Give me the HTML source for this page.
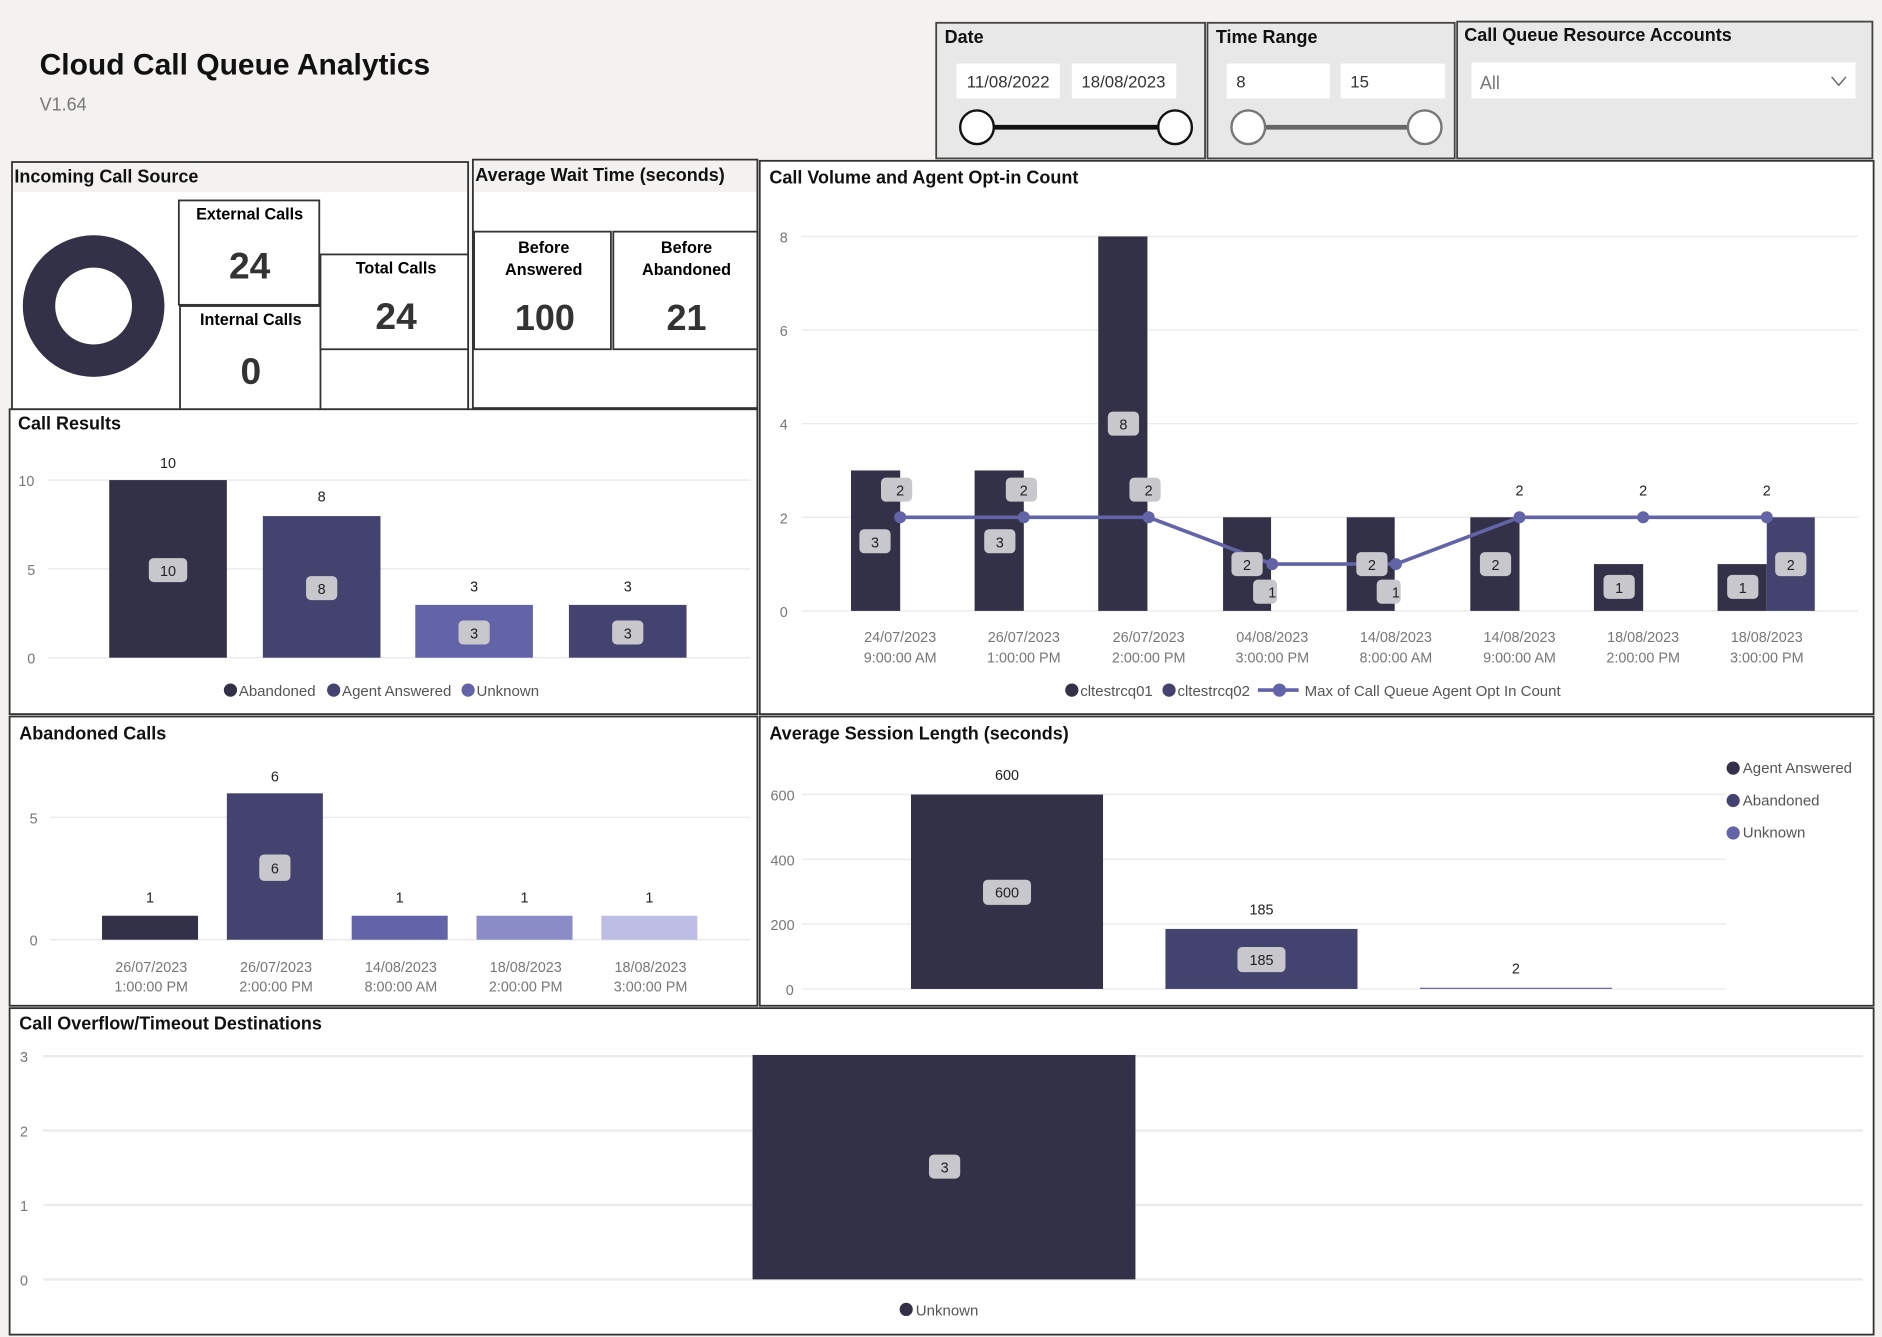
<!DOCTYPE html>
<html><head><meta charset="utf-8"><style>
html,body{margin:0;padding:0;background:#f3f2f1;overflow:hidden}
svg{display:block}
text{font-family:"Liberation Sans",sans-serif}
.t{font-weight:bold;font-size:15px;fill:#111}
.ax{font-size:12px;fill:#777}
.lb{font-size:12px;fill:#222}
.lg{font-size:12.5px;fill:#555}
.g{stroke:#ebebeb;stroke-width:1.2}
.pb{fill:#fff;stroke:#333;stroke-width:1.5}
.bx{fill:#c8c8cc}
</style></head><body>
<svg width="1882" height="1337" viewBox="0 0 1568 1114" preserveAspectRatio="none" xmlns="http://www.w3.org/2000/svg">
<rect width="1568" height="1114" fill="#f3f2f1"/>
<text x="33" y="62" font-size="25" font-weight="bold" fill="#111">Cloud Call Queue Analytics</text>
<text x="33" y="92" font-size="15" fill="#777">V1.64</text>

<!-- slicers -->
<rect x="780" y="19" width="224" height="113" fill="#e8e8e8" stroke="#444" stroke-width="1.5"/>
<text x="787" y="36" class="t" font-size="14">Date</text>
<rect x="797" y="53" width="86" height="29" fill="#fff"/><text x="840" y="73" font-size="14" text-anchor="middle" fill="#333">11/08/2022</text>
<rect x="893" y="53" width="87" height="29" fill="#fff"/><text x="936" y="73" font-size="14" text-anchor="middle" fill="#333">18/08/2023</text>
<line x1="814" y1="106" x2="979" y2="106" stroke="#111" stroke-width="4"/>
<circle cx="814" cy="106" r="14" fill="#fff" stroke="#111" stroke-width="2"/>
<circle cx="979" cy="106" r="14" fill="#fff" stroke="#111" stroke-width="2"/>
<rect x="1006" y="19" width="206" height="113" fill="#e8e8e8" stroke="#444" stroke-width="1.5"/>
<text x="1013" y="36" class="t" font-size="14">Time Range</text>
<rect x="1022" y="53" width="86" height="29" fill="#fff"/><text x="1030" y="73" font-size="14" fill="#333">8</text>
<rect x="1117" y="53" width="87" height="29" fill="#fff"/><text x="1125" y="73" font-size="14" fill="#333">15</text>
<line x1="1040" y1="106" x2="1187" y2="106" stroke="#666" stroke-width="4"/>
<circle cx="1040" cy="106" r="14" fill="#fff" stroke="#777" stroke-width="2"/>
<circle cx="1187" cy="106" r="14" fill="#fff" stroke="#777" stroke-width="2"/>
<rect x="1214" y="18" width="346" height="114" fill="#e8e8e8" stroke="#444" stroke-width="1.5"/>
<text x="1220" y="34" class="t" font-size="14">Call Queue Resource Accounts</text>
<rect x="1226" y="52" width="320" height="30" fill="#fff"/>
<text x="1233" y="74" font-size="15" fill="#777">All</text>
<polyline points="1526,64 1532,71 1538,64" fill="none" stroke="#666" stroke-width="1.2"/>

<!-- Incoming Call Source -->
<rect x="10" y="135" width="380" height="206" class="pb"/>
<rect x="11" y="136" width="378" height="24" fill="#f3f2f1"/>
<text x="12" y="152" class="t">Incoming Call Source</text>
<circle cx="78" cy="255" r="45.5" fill="none" stroke="#333147" stroke-width="27"/>
<rect x="149" y="167" width="117" height="87" class="pb"/>
<text x="208" y="183" text-anchor="middle" font-weight="bold" font-size="13.5">External Calls</text>
<text x="208" y="232" text-anchor="middle" font-weight="bold" font-size="31" fill="#333">24</text>
<rect x="150" y="255" width="117" height="86" class="pb"/>
<text x="209" y="271" text-anchor="middle" font-weight="bold" font-size="13.5">Internal Calls</text>
<text x="209" y="320" text-anchor="middle" font-weight="bold" font-size="31" fill="#333">0</text>
<rect x="267" y="212" width="123" height="79" class="pb"/>
<text x="330" y="228" text-anchor="middle" font-weight="bold" font-size="13.5">Total Calls</text>
<text x="330" y="274" text-anchor="middle" font-weight="bold" font-size="31" fill="#333">24</text>

<!-- Avg wait -->
<rect x="394" y="133" width="237" height="207" class="pb"/>
<rect x="395" y="134" width="235" height="26" fill="#f3f2f1"/>
<text x="396" y="151" class="t">Average Wait Time (seconds)</text>
<rect x="395" y="193" width="114" height="98" class="pb"/>
<text x="453" y="211" text-anchor="middle" font-weight="bold" font-size="13.5">Before</text>
<text x="453" y="229" text-anchor="middle" font-weight="bold" font-size="13.5">Answered</text>
<text x="454" y="275" text-anchor="middle" font-weight="bold" font-size="30" fill="#333">100</text>
<rect x="511" y="193" width="120" height="98" class="pb"/>
<text x="572" y="211" text-anchor="middle" font-weight="bold" font-size="13.5">Before</text>
<text x="572" y="229" text-anchor="middle" font-weight="bold" font-size="13.5">Abandoned</text>
<text x="572" y="275" text-anchor="middle" font-weight="bold" font-size="30" fill="#333">21</text>

<!-- Call Volume -->
<rect x="633" y="134" width="928" height="461" class="pb"/>
<text x="641" y="153" class="t">Call Volume and Agent Opt-in Count</text>
<g class="g"><line x1="668" y1="197" x2="1548" y2="197"/><line x1="668" y1="275" x2="1548" y2="275"/><line x1="668" y1="353" x2="1548" y2="353"/><line x1="668" y1="431" x2="1548" y2="431"/><line x1="668" y1="509" x2="1548" y2="509"/></g>
<g class="ax" text-anchor="middle"><text x="653" y="202">8</text><text x="653" y="280">6</text><text x="653" y="358">4</text><text x="653" y="436">2</text><text x="653" y="514">0</text></g>
<g fill="#333147">
<rect x="709" y="392" width="41" height="117"/><rect x="812" y="392" width="41" height="117"/><rect x="915" y="197" width="41" height="312"/>
<rect x="1019" y="431" width="40" height="78"/><rect x="1122" y="431" width="40" height="78"/><rect x="1225" y="431" width="41" height="78"/>
<rect x="1328" y="470" width="41" height="39"/><rect x="1431" y="470" width="41" height="39"/></g>
<rect x="1472" y="431" width="40" height="78" fill="#44436f"/>
<polyline points="750,431 853,431 957,431 1060,470 1163,470 1266,431 1369,431 1472,431" fill="none" stroke="#6264a7" stroke-width="3"/>
<g fill="#6264a7"><circle cx="750" cy="431" r="5"/><circle cx="853" cy="431" r="5"/><circle cx="957" cy="431" r="5"/><circle cx="1060" cy="470" r="5"/><circle cx="1163" cy="470" r="5"/><circle cx="1266" cy="431" r="5"/><circle cx="1369" cy="431" r="5"/><circle cx="1472" cy="431" r="5"/></g>
<g class="bx"><rect x="716" y="441" width="26" height="20" rx="4"/><rect x="820" y="441" width="26" height="20" rx="4"/><rect x="923" y="343" width="26" height="20" rx="4"/>
<rect x="734" y="398" width="26" height="20" rx="4"/><rect x="838" y="398" width="26" height="20" rx="4"/><rect x="941" y="398" width="26" height="20" rx="4"/>
<rect x="1026" y="460" width="26" height="20" rx="4"/><rect x="1130" y="460" width="26" height="20" rx="4"/><rect x="1233" y="460" width="26" height="20" rx="4"/>
<rect x="1044" y="483" width="20" height="20" rx="4"/><rect x="1147" y="483" width="20" height="20" rx="4"/>
<rect x="1336" y="479" width="26" height="20" rx="4"/><rect x="1439" y="479" width="26" height="20" rx="4"/><rect x="1479" y="460" width="26" height="20" rx="4"/></g>
<g class="lb" text-anchor="middle">
<text x="729" y="456">3</text><text x="833" y="456">3</text><text x="936" y="358">8</text>
<text x="750" y="413">2</text><text x="853" y="413">2</text><text x="957" y="413">2</text>
<text x="1039" y="475">2</text><text x="1143" y="475">2</text><text x="1246" y="475">2</text>
<text x="1060" y="498">1</text><text x="1163" y="498">1</text>
<text x="1349" y="494">1</text><text x="1452" y="494">1</text><text x="1492" y="475">2</text>
<text x="1266" y="413">2</text><text x="1369" y="413">2</text><text x="1472" y="413">2</text></g>
<g class="ax" text-anchor="middle">
<text x="750" y="535">24/07/2023</text><text x="750" y="552">9:00:00 AM</text>
<text x="853" y="535">26/07/2023</text><text x="853" y="552">1:00:00 PM</text>
<text x="957" y="535">26/07/2023</text><text x="957" y="552">2:00:00 PM</text>
<text x="1060" y="535">04/08/2023</text><text x="1060" y="552">3:00:00 PM</text>
<text x="1163" y="535">14/08/2023</text><text x="1163" y="552">8:00:00 AM</text>
<text x="1266" y="535">14/08/2023</text><text x="1266" y="552">9:00:00 AM</text>
<text x="1369" y="535">18/08/2023</text><text x="1369" y="552">2:00:00 PM</text>
<text x="1472" y="535">18/08/2023</text><text x="1472" y="552">3:00:00 PM</text></g>
<circle cx="893" cy="575" r="5.5" fill="#333147"/><text x="900" y="580" class="lg">cltestrcq01</text>
<circle cx="974" cy="575" r="5.5" fill="#44436f"/><text x="981" y="580" class="lg">cltestrcq02</text>
<line x1="1048" y1="575" x2="1082" y2="575" stroke="#6264a7" stroke-width="3"/><circle cx="1066" cy="575" r="5.5" fill="#6264a7"/>
<text x="1087" y="580" class="lg">Max of Call Queue Agent Opt In Count</text>

<!-- Call Results -->
<rect x="8" y="341" width="623" height="254" class="pb"/>
<text x="15" y="358" class="t">Call Results</text>
<g class="g"><line x1="40" y1="400" x2="625" y2="400"/><line x1="40" y1="474" x2="625" y2="474"/><line x1="40" y1="548" x2="625" y2="548"/></g>
<g class="ax" text-anchor="middle"><text x="22" y="405">10</text><text x="26" y="479">5</text><text x="26" y="553">0</text></g>
<rect x="91" y="400" width="98" height="148" fill="#333147"/>
<rect x="219" y="430" width="98" height="118" fill="#44436f"/>
<rect x="346" y="504" width="98" height="44" fill="#6264a7"/>
<rect x="474" y="504" width="98" height="44" fill="#44436f"/>
<g class="bx"><rect x="124" y="465" width="32" height="20" rx="4"/><rect x="255" y="480" width="26" height="20" rx="4"/><rect x="382" y="517" width="26" height="20" rx="4"/><rect x="510" y="517" width="26" height="20" rx="4"/></g>
<g class="lb" text-anchor="middle"><text x="140" y="480">10</text><text x="268" y="495">8</text><text x="395" y="532">3</text><text x="523" y="532">3</text>
<text x="140" y="390">10</text><text x="268" y="418">8</text><text x="395" y="493">3</text><text x="523" y="493">3</text></g>
<circle cx="192" cy="575" r="5.5" fill="#333147"/><text x="199" y="580" class="lg">Abandoned</text>
<circle cx="278" cy="575" r="5.5" fill="#44436f"/><text x="285" y="580" class="lg">Agent Answered</text>
<circle cx="390" cy="575" r="5.5" fill="#6264a7"/><text x="397" y="580" class="lg">Unknown</text>

<!-- Abandoned Calls -->
<rect x="8" y="597" width="623" height="241" class="pb"/>
<text x="16" y="616" class="t">Abandoned Calls</text>
<g class="g"><line x1="42" y1="681" x2="625" y2="681"/><line x1="42" y1="783" x2="625" y2="783"/></g>
<g class="ax" text-anchor="middle"><text x="28" y="686">5</text><text x="28" y="788">0</text></g>
<rect x="85" y="763" width="80" height="20" fill="#333147"/>
<rect x="189" y="661" width="80" height="122" fill="#44436f"/>
<rect x="293" y="763" width="80" height="20" fill="#6264a7"/>
<rect x="397" y="763" width="80" height="20" fill="#8b8cc7"/>
<rect x="501" y="763" width="80" height="20" fill="#bdbde6"/>
<rect x="216" y="712" width="26" height="22" rx="4" class="bx"/>
<g class="lb" text-anchor="middle" font-size="13"><text x="229" y="728">6</text><text x="229" y="651">6</text><text x="125" y="752">1</text><text x="333" y="752">1</text><text x="437" y="752">1</text><text x="541" y="752">1</text></g>
<g class="ax" text-anchor="middle">
<text x="126" y="810">26/07/2023</text><text x="126" y="826">1:00:00 PM</text>
<text x="230" y="810">26/07/2023</text><text x="230" y="826">2:00:00 PM</text>
<text x="334" y="810">14/08/2023</text><text x="334" y="826">8:00:00 AM</text>
<text x="438" y="810">18/08/2023</text><text x="438" y="826">2:00:00 PM</text>
<text x="542" y="810">18/08/2023</text><text x="542" y="826">3:00:00 PM</text></g>

<!-- Avg Session -->
<rect x="633" y="597" width="928" height="241" class="pb"/>
<text x="641" y="616" class="t">Average Session Length (seconds)</text>
<g class="g"><line x1="668" y1="662" x2="1438" y2="662"/><line x1="668" y1="716" x2="1438" y2="716"/><line x1="668" y1="770" x2="1438" y2="770"/><line x1="668" y1="824" x2="1438" y2="824"/></g>
<g class="ax" text-anchor="middle"><text x="652" y="667">600</text><text x="652" y="721">400</text><text x="652" y="775">200</text><text x="658" y="829">0</text></g>
<rect x="759" y="662" width="160" height="162" fill="#333147"/>
<rect x="971" y="774" width="160" height="50" fill="#44436f"/>
<rect x="1183" y="823" width="160" height="1" fill="#6264a7"/>
<g class="bx"><rect x="819" y="733" width="40" height="21" rx="4"/><rect x="1031" y="789" width="40" height="21" rx="4"/></g>
<g class="lb" text-anchor="middle"><text x="839" y="748">600</text><text x="1051" y="804">185</text><text x="839" y="650">600</text><text x="1051" y="762">185</text><text x="1263" y="811">2</text></g>
<circle cx="1444" cy="640" r="5.5" fill="#333147"/><text x="1452" y="644" class="lg">Agent Answered</text>
<circle cx="1444" cy="667" r="5.5" fill="#44436f"/><text x="1452" y="671" class="lg">Abandoned</text>
<circle cx="1444" cy="694" r="5.5" fill="#6264a7"/><text x="1452" y="698" class="lg">Unknown</text>

<!-- Overflow -->
<rect x="8" y="840" width="1553" height="272" class="pb"/>
<text x="16" y="858" class="t">Call Overflow/Timeout Destinations</text>
<g class="g" style="stroke-width:2"><line x1="36" y1="880" x2="1552" y2="880"/><line x1="36" y1="942" x2="1552" y2="942"/><line x1="36" y1="1004" x2="1552" y2="1004"/><line x1="36" y1="1066" x2="1552" y2="1066"/></g>
<g class="ax" text-anchor="middle"><text x="20" y="885">3</text><text x="20" y="947">2</text><text x="20" y="1009">1</text><text x="20" y="1071">0</text></g>
<rect x="627" y="879" width="319" height="187" fill="#333147"/>
<rect x="774" y="962" width="26" height="20" rx="4" class="bx"/>
<text x="787" y="977" class="lb" text-anchor="middle">3</text>
<circle cx="755" cy="1091" r="5.5" fill="#333147"/><text x="763" y="1096" class="lg">Unknown</text>
</svg>
</body></html>
